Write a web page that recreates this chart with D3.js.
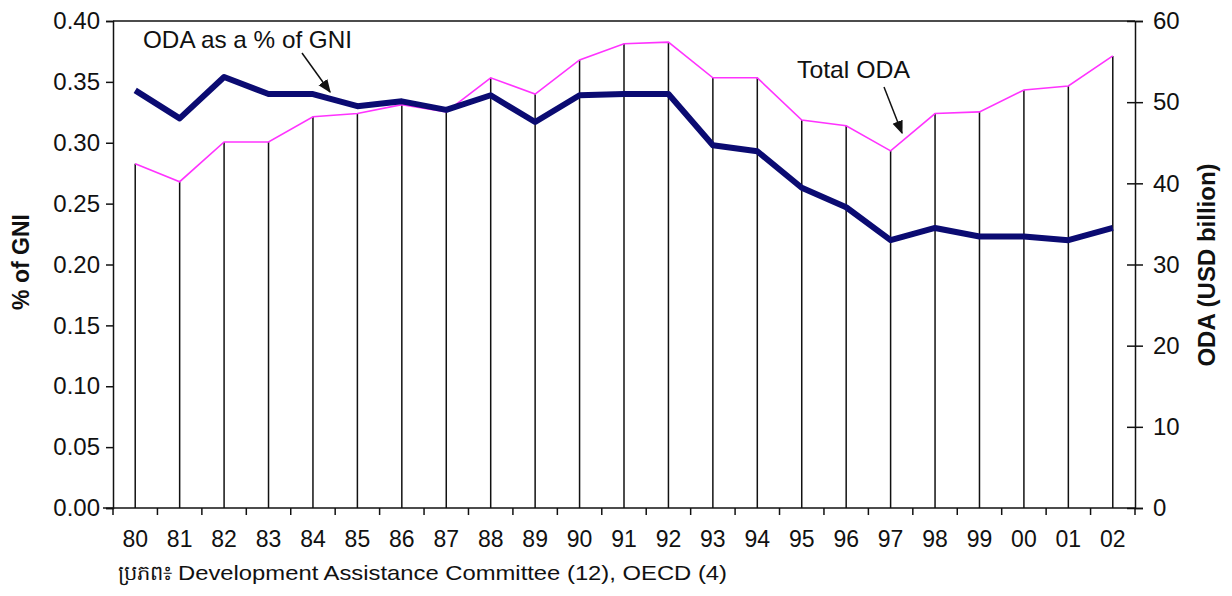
<!DOCTYPE html>
<html>
<head>
<meta charset="utf-8">
<script src="https://cdn.jsdelivr.net/npm/d3@7"></script>
<style>
  body { margin: 0; background: #fff; }
  svg { font-family: "Liberation Sans", Arial, sans-serif; }
</style>
</head>
<body>
<svg id="chart" width="1232" height="596"></svg>
<script>
// Data
const years = ["80","81","82","83","84","85","86","87","88","89","90","91","92","93","94","95","96","97","98","99","00","01","02"];
const pctGNI = [0.343,0.320,0.354,0.340,0.340,0.330,0.334,0.327,0.339,0.317,0.339,0.340,0.340,0.298,0.293,0.263,0.247,0.220,0.230,0.223,0.223,0.220,0.230];
const totalODA = [42.4,40.2,45.1,45.1,48.2,48.6,49.7,48.8,53.0,51.0,55.2,57.2,57.4,53.0,53.0,47.8,47.1,44.0,48.6,48.8,51.5,52.0,55.7];
const leftTicks = [0,0.05,0.10,0.15,0.20,0.25,0.30,0.35,0.40];
const rightTicks = [0,10,20,30,40,50,60];

const svg = d3.select("#chart");
const plotLeft = 113, plotRight = 1135, plotTop = 21, plotBottom = 508;

const x = d3.scaleBand().domain(years).range([plotLeft, plotRight]);
const yL = d3.scaleLinear().domain([0, 0.40]).range([plotBottom, plotTop]);
const yR = d3.scaleLinear().domain([0, 60]).range([plotBottom, plotTop]);
const cx = d => x(d) + x.bandwidth() / 2;

// arrow marker
svg.append("defs").append("marker")
    .attr("id", "arr")
    .attr("viewBox", "0 0 10 10")
    .attr("refX", 9).attr("refY", 5)
    .attr("markerWidth", 9).attr("markerHeight", 9)
    .attr("orient", "auto")
    .append("path").attr("d", "M0,1 L10,5 L0,9 Z").attr("fill", "#111");

// top border
svg.append("line")
    .attr("x1", plotLeft).attr("x2", plotRight)
    .attr("y1", plotTop).attr("y2", plotTop)
    .attr("stroke", "#111").attr("stroke-width", 1.5);

// drop lines from total ODA points
svg.append("g").selectAll("line")
    .data(years)
    .enter().append("line")
    .attr("x1", d => cx(d)).attr("x2", d => cx(d))
    .attr("y1", (d, i) => yR(totalODA[i]))
    .attr("y2", plotBottom)
    .attr("stroke", "#111").attr("stroke-width", 1.5);

// Total ODA line
svg.append("path")
    .datum(totalODA)
    .attr("fill", "none")
    .attr("stroke", "#ff33ff")
    .attr("stroke-width", 1.6)
    .attr("d", d3.line().x((d, i) => cx(years[i])).y(d => yR(d)));

// ODA as % of GNI line
svg.append("path")
    .datum(pctGNI)
    .attr("fill", "none")
    .attr("stroke", "#0b0b72")
    .attr("stroke-width", 6)
    .attr("stroke-linejoin", "round")
    .attr("d", d3.line().x((d, i) => cx(years[i])).y(d => yL(d)));

// left axis
const gL = svg.append("g")
    .attr("transform", `translate(${plotLeft},0)`)
    .call(d3.axisLeft(yL).tickValues(leftTicks).tickFormat(d3.format(".2f")).tickSize(7).tickPadding(6));

// right axis
const gR = svg.append("g")
    .attr("transform", `translate(${plotRight},0)`)
    .call(d3.axisRight(yR).tickValues(rightTicks).tickSize(8).tickPadding(10));
gR.selectAll(".tick line").attr("x1", -8);

// bottom axis (ticks at category boundaries)
const gB = svg.append("g")
    .attr("transform", `translate(0,${plotBottom})`)
    .call(d3.axisBottom(x).tickSize(0).tickPadding(23));
gB.selectAll(".boundary")
    .data(years.concat(["end"]))
    .enter().append("line")
    .attr("x1", (d, i) => plotLeft + i * x.bandwidth())
    .attr("x2", (d, i) => plotLeft + i * x.bandwidth())
    .attr("y1", 0).attr("y2", 7)
    .attr("stroke", "#111").attr("stroke-width", 1.5);

[gL, gR, gB].forEach(g => {
    g.select(".domain").attr("stroke", "#111").attr("stroke-width", 1.5);
    g.selectAll(".tick line").attr("stroke", "#111").attr("stroke-width", 1.5);
    g.selectAll("text").attr("font-size", 24).attr("fill", "#111")
        .attr("font-family", "'Liberation Sans', Arial, sans-serif");
});
gB.selectAll("text").attr("font-size", 23);
gB.select(".domain").attr("d", `M${plotLeft - 10},0H${plotRight}`);

// axis titles
svg.append("text")
    .attr("transform", `translate(29,262) rotate(-90)`)
    .attr("text-anchor", "middle")
    .attr("font-size", 23).attr("font-weight", "bold").attr("fill", "#111")
    .text("% of GNI");

svg.append("text")
    .attr("transform", `translate(1215,265) rotate(-90)`)
    .attr("text-anchor", "middle")
    .attr("font-size", 24).attr("font-weight", "bold").attr("fill", "#111")
    .text("ODA (USD billion)");

// annotations
svg.append("text")
    .attr("x", 143).attr("y", 48)
    .attr("font-size", 24).attr("fill", "#111")
    .attr("textLength", 209).attr("lengthAdjust", "spacingAndGlyphs")
    .text("ODA as a % of GNI");
svg.append("line")
    .attr("x1", 302).attr("y1", 53).attr("x2", 330).attr("y2", 92)
    .attr("stroke", "#111").attr("stroke-width", 1.5)
    .attr("marker-end", "url(#arr)");

svg.append("text")
    .attr("x", 797).attr("y", 78)
    .attr("font-size", 24).attr("fill", "#111")
    .attr("textLength", 113).attr("lengthAdjust", "spacingAndGlyphs")
    .text("Total ODA");
svg.append("line")
    .attr("x1", 884).attr("y1", 87).attr("x2", 902).attr("y2", 133)
    .attr("stroke", "#111").attr("stroke-width", 1.5)
    .attr("marker-end", "url(#arr)");

// source note
const note = svg.append("text")
    .attr("y", 580)
    .attr("font-size", 21).attr("fill", "#111");
note.append("tspan").attr("x", 118).text("ប្រភព៖");
note.append("tspan").attr("x", 178)
    .attr("textLength", 549).attr("lengthAdjust", "spacingAndGlyphs")
    .text("Development Assistance Committee (12), OECD (4)");
</script>
</body>
</html>
